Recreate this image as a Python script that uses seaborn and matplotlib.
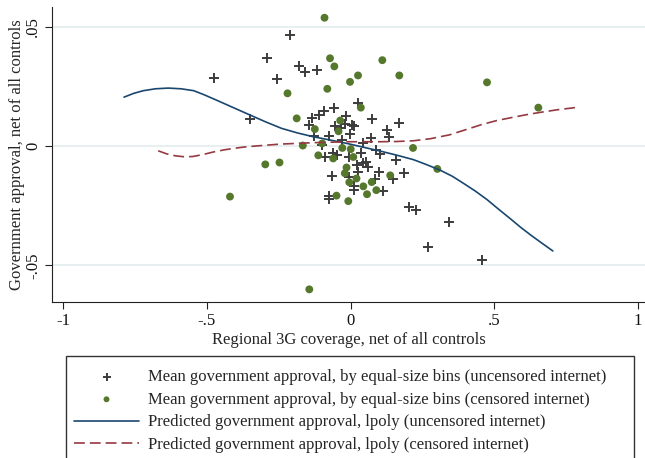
import matplotlib
matplotlib.use("Agg")
import matplotlib.pyplot as plt
from matplotlib.patches import Rectangle
import numpy as np
import pandas as pd
import seaborn as sns

# Binned means, uncensored-internet regions
unc_x = [-0.4746, -0.3491, -0.2920, -0.2561, -0.2098, -0.1794, -0.1596, -0.1167,
         0.0251, -0.0568, -0.0923, -0.1087, -0.1348, -0.1446, -0.1272, -0.0739,
         -0.0174, -0.0533, -0.0192, 0.0042, -0.0017, -0.0286, 0.0756, 0.1690,
         0.1265, 0.1352, 0.0721, 0.0122, 0.0446, -0.1000, 0.0895, 0.1014,
         0.0376, -0.0875, -0.0617, -0.0481, -0.0063, 0.0220, 0.0418, 0.0557,
         0.0592, 0.0261, -0.0056, -0.0655, 0.0105, 0.0122, -0.0732, -0.0749,
         0.1575, 0.1847, 0.0979, 0.0836, 0.1481, 0.1143, 0.2038, 0.2265,
         0.3415, 0.2700, 0.4582, -0.0341]
unc_y = [0.0287, 0.0115, 0.0370, 0.0282, 0.0465, 0.0335, 0.0310, 0.0317,
         0.0180, 0.0161, 0.0145, 0.0131, 0.0119, 0.0088, 0.0044, 0.0040,
         0.0124, 0.0082, 0.0091, 0.0090, 0.0052, 0.0025, 0.0114, 0.0098,
         0.0067, 0.0039, 0.0034, 0.0086, 0.0011, 0.0006, -0.0017, -0.0034,
         -0.0031, -0.0048, -0.0028, -0.0038, -0.0046, -0.0080, -0.0071, -0.0067,
         -0.0088, -0.0108, -0.0128, -0.0127, -0.0166, -0.0184, -0.0211, -0.0224,
         -0.0059, -0.0112, -0.0109, -0.0138, -0.0140, -0.0187, -0.0254, -0.0267,
         -0.0319, -0.0425, -0.0478, 0.0077]

# Binned means, censored-internet regions
cen_x = [-0.0906, -0.0714, -0.0564, 0.1108, 0.1700, 0.0261, -0.0017, -0.0808,
         -0.2195, 0.0359, 0.4756, -0.1875, -0.1244, -0.0359, -0.0418, -0.1662,
         -0.0986, -0.0286, 0.0007, 0.2178, -0.1122, -0.0603, 0.0098, -0.2969,
         -0.2474, -0.4199, -0.0139, -0.0199, 0.0209, -0.0042, 0.0446, 0.0739,
         0.1383, 0.0575, 0.0899, -0.0488, -0.0077, 0.3024, -0.1436, 0.6544]
cen_y = [0.0538, 0.0368, 0.0334, 0.0360, 0.0296, 0.0296, 0.0269, 0.0240,
         0.0221, 0.0161, 0.0267, 0.0116, 0.0071, 0.0107, 0.0062, 0.0002,
         0.0011, -0.0008, -0.0013, -0.0008, -0.0039, -0.0052, -0.0046, -0.0077,
         -0.0069, -0.0212, -0.0090, -0.0114, -0.0136, -0.0152, -0.0169, -0.0151,
         -0.0123, -0.0202, -0.0185, -0.0208, -0.0231, -0.0096, -0.0601, 0.0161]

# Local polynomial fits
fit_unc_x = [-0.789, -0.755, -0.722, -0.680, -0.635, -0.590, -0.546, -0.510,
             -0.468, -0.410, -0.350, -0.295, -0.240, -0.185, -0.130, -0.070,
             -0.013, 0.045, 0.103, 0.160, 0.219, 0.265, 0.312, 0.355, 0.393,
             0.435, 0.475, 0.515, 0.556, 0.595, 0.632, 0.670, 0.705]
fit_unc_y = [0.0205, 0.0221, 0.0232, 0.0240, 0.0243, 0.0240, 0.0232, 0.0215,
             0.0193, 0.0162, 0.0130, 0.0101, 0.0074, 0.0055, 0.0039, 0.0025,
             0.0011, -0.0005, -0.0021, -0.0038, -0.0057, -0.0078, -0.0101, -0.0127,
             -0.0156, -0.0189, -0.0224, -0.0264, -0.0304, -0.0343, -0.0377, -0.0410, -0.0440]
fit_cen_x = [-0.670, -0.640, -0.610, -0.580, -0.550, -0.515, -0.478, -0.440,
             -0.408, -0.362, -0.300, -0.246, -0.190, -0.130, -0.070, -0.013,
             0.045, 0.103, 0.160, 0.219, 0.280, 0.345, 0.400, 0.457, 0.510,
             0.568, 0.620, 0.660, 0.720, 0.782]
fit_cen_y = [-0.0020, -0.0033, -0.0041, -0.0045, -0.0044, -0.0036, -0.0025, -0.0016,
             -0.0010, -0.0003, 0.0003, 0.0008, 0.0011, 0.0014, 0.0016, 0.0018,
             0.0018, 0.0018, 0.0019, 0.0022, 0.0031, 0.0047, 0.0068, 0.0090, 0.0107,
             0.0121, 0.0133, 0.0141, 0.0152, 0.0161]

x_ticks = [-1, -0.5, 0, 0.5, 1]
x_tick_labels = ["-1", "-.5", "0", ".5", "1"]
y_ticks = [-0.05, 0, 0.05]
y_tick_labels = ["-.05", "0", ".05"]

labels = [
    "Mean government approval, by equal-size bins (uncensored internet)",
    "Mean government approval, by equal-size bins (censored internet)",
    "Predicted government approval, lpoly (uncensored internet)",
    "Predicted government approval, lpoly (censored internet)",
]

sns.set_theme(style="ticks")
plt.rcParams["font.family"] = ["Liberation Serif", "DejaVu Serif"]
FS = 12

C_PLUS = "#3c3c3c"
C_GREEN = "#55782c"
C_BLUE = "#1a476f"
C_RED = "#953a40"
C_GRID = "#e6eef0"

fig = plt.figure(figsize=(6.45, 4.58), dpi=100)
W, H = 645, 458
ax = fig.add_axes([52 / W, 1 - 302 / H, (W - 52) / W, (302 - 7) / H])

df_unc = pd.DataFrame({"x": unc_x, "y": unc_y})
df_cen = pd.DataFrame({"x": cen_x, "y": cen_y})
df_fu = pd.DataFrame({"x": fit_unc_x, "y": fit_unc_y})
df_fc = pd.DataFrame({"x": fit_cen_x, "y": fit_cen_y})

sns.scatterplot(data=df_unc, x="x", y="y", ax=ax, marker="+", s=58, color=C_PLUS,
                linewidth=1.4, label=labels[0], zorder=3)
sns.scatterplot(data=df_cen, x="x", y="y", ax=ax, marker="o", s=32, color=C_GREEN,
                edgecolor="none", label=labels[1], zorder=3)
sns.lineplot(data=df_fu, x="x", y="y", ax=ax, color=C_BLUE, linewidth=1.2,
             sort=False, estimator=None, label=labels[2], zorder=4)
sns.lineplot(data=df_fc, x="x", y="y", ax=ax, color=C_RED, linewidth=1.2,
             sort=False, estimator=None, label=labels[3], zorder=4,
             linestyle=(0, (6.5, 3.0)))

ax.set_xlim(-1.040, 1.026)
ax.set_ylim(-0.0654, 0.0583)
ax.set_xticks(x_ticks)
ax.set_xticklabels(x_tick_labels, fontsize=FS)
ax.set_yticks(y_ticks)
ax.set_yticklabels(y_tick_labels, fontsize=FS, rotation=90, va="center")
for yv in y_ticks:
    ax.axhline(yv, color=C_GRID, linewidth=1.3, zorder=0)

ax.set_xlabel("Regional 3G coverage, net of all controls", fontsize=FS, labelpad=2)
ax.set_ylabel("Government approval, net of all controls", fontsize=FS, labelpad=0)
ax.tick_params(axis="both", direction="out", length=5, width=0.8, color="#222222",
               labelcolor="#111111", pad=3)
for side in ["top", "right"]:
    ax.spines[side].set_visible(False)
for side in ["left", "bottom"]:
    ax.spines[side].set_color("#222222")
    ax.spines[side].set_linewidth(0.8)

handles, labs = ax.get_legend_handles_labels()
ax.get_legend().remove()
fig.legend(handles, labs, loc="upper left", bbox_to_anchor=(74 / W, 1 - 369 / H),
           frameon=False, fontsize=FS, handlelength=3.9, handletextpad=0.55,
           labelspacing=0.40, borderpad=0, borderaxespad=0, markerscale=0.75)
fig.add_artist(Rectangle((66 / W, -0.05), (634 - 66) / W, (1 - 356 / H) + 0.05,
                         transform=fig.transFigure, fill=False,
                         edgecolor="#333333", linewidth=1.0, clip_on=False))

fig.savefig("out.png", dpi=100)
